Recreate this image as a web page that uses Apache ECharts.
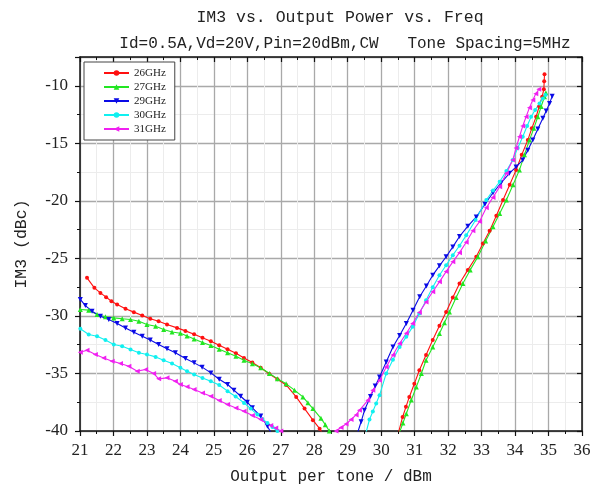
<!DOCTYPE html>
<html>
<head>
<meta charset="utf-8">
<script src="https://cdn.jsdelivr.net/npm/echarts@6/dist/echarts.min.js"></script>
<style>html,body{margin:0;padding:0;background:#fff}#c{width:599px;height:491px}</style>
</head>
<body>
<div id="c"></div>
<script>
// ---- data (null separates the falling branch from the rising branch) ----
const seriesNames = ['26GHz', '27GHz', '29GHz', '30GHz', '31GHz'];
const xTicks = [21,22,23,24,25,26,27,28,29,30,31,32,33,34,35,36];
const yTicks = [-40,-35,-30,-25,-20,-15,-10];

const x26 = [21.21,21.43,21.61,21.78,21.94,22.11,22.36,22.61,22.86,23.1,23.35,23.6,23.9,24.15,24.41,24.66,24.91,25.16,25.41,25.66,25.9,26.15,26.4,26.66,26.9,27.16,27.46,27.71,27.96,28.16,28.22,
  null,
  30.52,30.64,30.74,30.84,30.99,31.14,31.34,31.54,31.74,31.94,32.14,32.34,32.59,32.84,33.04,33.24,33.44,33.64,33.84,34.03,34.2,34.38,34.5,34.63,34.72,34.81,34.86,34.87,34.88];
const y26 = [-26.69,-27.56,-28.0,-28.37,-28.72,-29.0,-29.38,-29.67,-29.96,-30.25,-30.46,-30.74,-31.04,-31.3,-31.6,-31.9,-32.2,-32.55,-32.9,-33.25,-33.65,-34.05,-34.5,-35.05,-35.5,-36.0,-37.04,-38.05,-39.06,-39.8,-40.1,
  null,
  -40.1,-38.78,-37.9,-37.04,-35.9,-34.72,-33.4,-32.1,-30.85,-29.65,-28.4,-27.18,-26.0,-24.86,-23.7,-22.6,-21.3,-19.93,-18.6,-17.33,-16.0,-14.72,-13.7,-12.69,-11.8,-10.95,-10.3,-9.6,-9.0];

const x27 = [21.01,21.26,21.51,21.76,22.01,22.26,22.51,22.76,23.0,23.26,23.5,23.75,24.0,24.2,24.41,24.66,24.91,25.16,25.41,25.66,25.9,26.15,26.4,26.66,26.9,27.16,27.41,27.66,27.81,27.96,28.2,28.33,28.45,
  null,
  30.55,30.65,30.75,30.9,31.05,31.2,31.34,31.54,31.74,31.89,32.04,32.24,32.44,32.66,32.89,33.12,33.34,33.54,33.74,33.94,34.13,34.28,34.43,34.56,34.68,34.78,34.88,34.92];
const y27 = [-29.44,-29.5,-29.87,-30.08,-30.17,-30.25,-30.31,-30.46,-30.74,-30.9,-31.18,-31.4,-31.5,-31.75,-32.0,-32.3,-32.57,-32.9,-33.2,-33.5,-33.85,-34.15,-34.5,-35.0,-35.45,-35.9,-36.45,-37.04,-37.55,-38.05,-38.9,-39.45,-40.0,
  null,
  -40.1,-39.3,-38.5,-37.3,-36.17,-35.0,-33.85,-32.7,-31.53,-30.6,-29.65,-28.4,-27.18,-26.0,-24.86,-23.5,-22.25,-21.1,-19.93,-18.6,-17.33,-16.0,-14.72,-13.7,-12.69,-11.8,-10.95,-10.6];

const x29 = [21.01,21.16,21.36,21.61,21.86,22.11,22.36,22.61,22.86,23.1,23.35,23.6,23.85,24.15,24.41,24.65,24.91,25.16,25.41,25.6,25.8,26.0,26.15,26.4,26.6,26.7,
  null,
  29.3,29.4,29.5,29.68,29.82,29.95,30.15,30.35,30.55,30.75,30.95,31.15,31.35,31.54,31.74,31.94,32.14,32.34,32.59,32.84,33.1,33.34,33.58,33.83,34.03,34.23,34.38,34.53,34.68,34.83,34.93,35.03,35.11];
const y29 = [-28.57,-29.1,-29.59,-30.02,-30.31,-30.66,-31.04,-31.41,-31.76,-32.1,-32.48,-32.86,-33.2,-33.7,-34.08,-34.45,-34.95,-35.5,-35.96,-36.45,-36.98,-37.5,-37.99,-38.7,-39.59,-40.1,
  null,
  -40.1,-39.2,-38.2,-37.0,-36.1,-35.3,-34.0,-32.7,-31.7,-30.66,-29.5,-28.34,-27.4,-26.46,-25.65,-24.86,-24.0,-23.1,-22.2,-21.4,-20.3,-19.3,-18.45,-17.61,-17.05,-16.46,-15.6,-14.72,-13.75,-12.83,-12.2,-11.53,-10.9];

const x30 = [21.01,21.26,21.51,21.76,22.01,22.26,22.51,22.76,23.0,23.26,23.5,23.75,24.0,24.2,24.41,24.66,24.91,25.16,25.41,25.65,25.9,26.1,26.3,26.45,26.6,26.75,26.9,
  null,
  29.55,29.65,29.75,29.85,29.95,30.15,30.35,30.55,30.75,30.94,31.14,31.34,31.54,31.74,31.94,32.14,32.34,32.54,32.82,33.14,33.34,33.54,33.74,33.93,34.08,34.23,34.36,34.48,34.6,34.73,34.83,34.91];
const y30 = [-31.12,-31.61,-31.76,-32.1,-32.48,-32.63,-32.92,-33.2,-33.35,-33.56,-33.85,-34.13,-34.5,-34.8,-35.1,-35.4,-35.67,-36.0,-36.54,-37.0,-37.56,-38.05,-38.57,-38.95,-39.3,-39.65,-40.0,
  null,
  -40.1,-39.0,-38.3,-37.6,-36.9,-35.0,-33.8,-32.7,-31.8,-30.95,-29.8,-28.63,-27.5,-26.46,-25.6,-24.72,-23.9,-23.0,-21.67,-19.93,-19.1,-18.34,-17.4,-16.46,-15.4,-14.43,-13.5,-12.69,-12.1,-11.53,-11.1,-10.8];

const x31 = [21.01,21.21,21.46,21.71,21.96,22.21,22.46,22.71,22.96,23.2,23.35,23.6,23.85,24.0,24.2,24.41,24.66,24.91,25.16,25.41,25.66,25.9,26.15,26.4,26.7,26.85,27.0,
  null,
  28.65,28.8,28.95,29.1,29.25,29.35,29.6,29.75,29.95,30.15,30.35,30.55,30.75,30.94,31.14,31.34,31.54,31.74,31.94,32.14,32.34,32.54,32.74,32.94,33.14,33.34,33.54,33.74,33.93,34.03,34.13,34.23,34.33,34.43,34.53,34.62,34.71];
const y31 = [-33.15,-32.98,-33.35,-33.65,-33.93,-34.13,-34.37,-34.8,-34.66,-35.0,-35.47,-35.38,-35.67,-35.96,-36.15,-36.4,-36.7,-36.98,-37.35,-37.7,-38.0,-38.28,-38.65,-39.0,-39.53,-39.75,-40.0,
  null,
  -40.0,-39.7,-39.4,-39.0,-38.6,-38.2,-37.33,-36.46,-35.6,-34.43,-33.4,-32.4,-31.5,-30.66,-29.7,-28.78,-27.9,-27.04,-26.15,-25.3,-24.5,-23.6,-22.6,-21.8,-20.6,-19.7,-18.78,-17.6,-16.46,-15.4,-14.43,-13.5,-12.69,-11.9,-11.24,-10.7,-10.3];

const colors = ['#ff1010', '#22e622', '#0a0ae6', '#10f0f0', '#f020f0'];
const symbols = ['circle', 'triangle', 'triangle', 'circle', 'triangle'];
const rotations = [0, 0, 180, 0, 90];
const xs = [x26, x27, x29, x30, x31];
const ys = [y26, y27, y29, y30, y31];

function pairs(xa, ya) {
  return xa.map((x, i) => (x === null || ya[i] === null) ? ['-', '-'] : [x, ya[i]]);
}

const FONT_T = 'Liberation Mono';
const FONT_N = 'Liberation Serif';
const TXT = '#222';

const chart = echarts.init(document.getElementById('c'), null, {renderer: 'canvas'});
chart.setOption({
  animation: false,
  backgroundColor: '#fff',
  title: [
    {text: 'IM3 vs. Output Power vs. Freq', left: 335, top: 4, textAlign: 'center',
     textStyle: {fontFamily: FONT_T, fontSize: 16.5, fontWeight: 'normal', color: TXT}},
    {text: 'Id=0.5A,Vd=20V,Pin=20dBm,CW   Tone Spacing=5MHz', left: 340, top: 31, textAlign: 'center',
     textStyle: {fontFamily: FONT_T, fontSize: 16, fontWeight: 'normal', color: TXT}}
  ],
  legend: {
    data: seriesNames,
    orient: 'vertical',
    left: 84, top: 62,
    padding: [5, 9, 5, 19],
    itemGap: 2,
    itemWidth: 25, itemHeight: 7,
    borderColor: '#444', borderWidth: 1,
    backgroundColor: '#fff',
    textStyle: {fontFamily: FONT_N, fontSize: 11, color: TXT, lineHeight: 12}
  },
  grid: {left: 80, right: 17, top: 57, bottom: 60, containLabel: false},
  xAxis: [
    {type: 'value', min: xTicks[0], max: xTicks[xTicks.length - 1], interval: 1,
     name: 'Output per tone / dBm', nameLocation: 'middle', nameGap: 38,
     nameTextStyle: {fontFamily: FONT_T, fontSize: 16, color: TXT},
     axisLine: {show: true, lineStyle: {color: '#111', width: 1.5}},
     axisTick: {show: true, inside: false, length: 5, lineStyle: {color: '#111', width: 1.2}},
     minorTick: {show: true, splitNumber: 2, length: 3, lineStyle: {color: '#111', width: 1}},
     axisLabel: {fontFamily: FONT_N, fontSize: 17, color: TXT, margin: 11},
     splitLine: {show: true, lineStyle: {color: '#a9a9a9', width: 1.3}},
     minorSplitLine: {show: true, lineStyle: {color: '#ececec', width: 1}}},
    {type: 'value', position: 'top', min: xTicks[0], max: xTicks[xTicks.length - 1], interval: 1,
     axisLine: {show: true, lineStyle: {color: '#111', width: 1.5}},
     axisTick: {show: true, inside: true, length: 5, lineStyle: {color: '#111', width: 1.2}},
     minorTick: {show: true, splitNumber: 2, length: 3, lineStyle: {color: '#111', width: 1}},
     axisLabel: {show: false}, splitLine: {show: false}}
  ],
  yAxis: [
    {type: 'value', min: yTicks[0], max: -7.5, interval: 5,
     name: 'IM3 (dBc)', nameLocation: 'middle', nameGap: 50, nameRotate: 90,
     nameTextStyle: {fontFamily: FONT_T, fontSize: 16.5, color: TXT},
     axisLine: {show: true, lineStyle: {color: '#111', width: 1.5}},
     axisTick: {show: true, inside: false, length: 5, lineStyle: {color: '#111', width: 1.2}},
     minorTick: {show: true, splitNumber: 2, length: 3, lineStyle: {color: '#111', width: 1}},
     axisLabel: {fontFamily: FONT_N, fontSize: 17, color: TXT, margin: 12, showMaxLabel: false,
       formatter: v => yTicks.indexOf(v) >= 0 ? String(v) : ''},
     splitLine: {show: true, lineStyle: {color: '#a9a9a9', width: 1.3}},
     minorSplitLine: {show: true, lineStyle: {color: '#ececec', width: 1}}},
    {type: 'value', position: 'right', min: yTicks[0], max: -7.5, interval: 5,
     axisLine: {show: true, lineStyle: {color: '#111', width: 1.5}},
     axisTick: {show: true, inside: true, length: 5, lineStyle: {color: '#111', width: 1.2}},
     minorTick: {show: true, splitNumber: 2, length: 3, lineStyle: {color: '#111', width: 1}},
     axisLabel: {show: false}, splitLine: {show: false}}
  ],
  series: seriesNames.map((n, i) => ({
    name: n, type: 'line', xAxisIndex: 0, yAxisIndex: 0,
    data: pairs(xs[i], ys[i]),
    connectNulls: false,
    clip: true,
    symbol: symbols[i], symbolRotate: rotations[i],
    symbolSize: symbols[i] === 'circle' ? 4 : 5,
    showAllSymbol: true,
    color: colors[i],
    itemStyle: {color: colors[i]},
    lineStyle: {color: colors[i], width: 1.1},
    emphasis: {disabled: true}
  }))
});
</script>
</body>
</html>
